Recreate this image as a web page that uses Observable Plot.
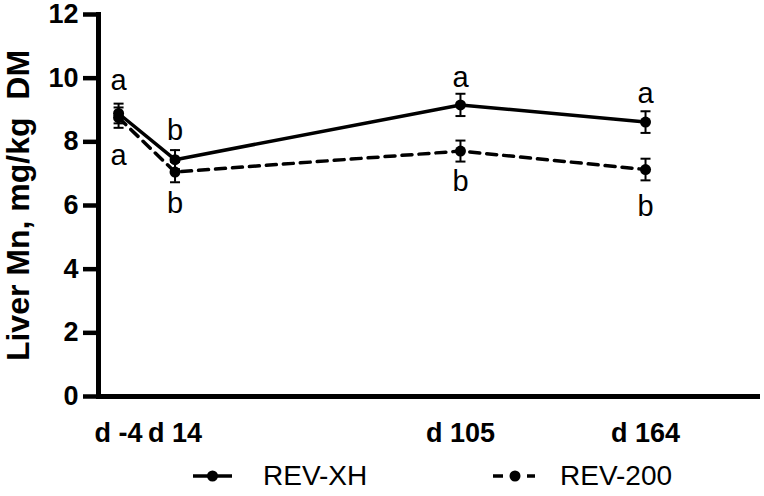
<!DOCTYPE html>
<html>
<head>
<meta charset="utf-8">
<script src="https://cdn.jsdelivr.net/npm/d3@7"></script>
<script src="https://cdn.jsdelivr.net/npm/@observablehq/plot@0.6"></script>
<style>
  body { margin: 0; background: #fff; width: 764px; height: 496px; overflow: hidden; }
  #chart svg text { white-space: pre; }
  #chart g[aria-label="y-axis label"] { font-size: 32px; font-weight: bold; }
  #legend { position: relative; height: 40px; font-family: "Liberation Sans", Arial, sans-serif; font-size: 28px; color: #000; }
  #legend .item { position: absolute; top: 0; height: 40px; display: flex; align-items: center; }
  #legend .lab { position: absolute; top: 0; height: 40px; line-height: 40px; }
</style>
</head>
<body>
<div id="chart"></div>
<div id="legend"></div>
<script>
// ---- data ----
const days = [-4, 14, 105, 164];
const dayLabels = ["d -4", "d 14", "d 105", "d 164"];
const seriesNames = ["REV-XH", "REV-200"];
const xhMean = [8.89, 7.44, 9.16, 8.62];
const xhSE = [0.31, 0.30, 0.35, 0.34];
const r200Mean = [8.76, 7.05, 7.71, 7.13];
const r200SE = [0.32, 0.32, 0.33, 0.34];
// significance letters (day, y in data units, letter)
const letterDay = [-4, -4, 14, 14, 105, 105, 164, 164];
const letterY = [9.93, 7.57, 8.36, 6.06, 10.02, 6.75, 9.50, 5.97];
const letterText = ["a", "a", "b", "b", "a", "b", "a", "b"];
const yTicks = [0, 2, 4, 6, 8, 10, 12];
const xDomain = [-10.4, 199.7];
const yDomain = [0, 12];

// ---- build tables ----
const rows = [];
days.forEach((d, i) => {
  rows.push({series: seriesNames[0], day: d, mean: xhMean[i], lo: xhMean[i] - xhSE[i], hi: xhMean[i] + xhSE[i]});
  rows.push({series: seriesNames[1], day: d, mean: r200Mean[i], lo: r200Mean[i] - r200SE[i], hi: r200Mean[i] + r200SE[i]});
});
const xhRows = rows.filter(r => r.series === seriesNames[0]);
const r200Rows = rows.filter(r => r.series === seriesNames[1]);
const letters = letterDay.map((d, i) => ({day: d, y: letterY[i], t: letterText[i]}));

const capSymbol = {
  draw(context, size) {
    const w = 5;
    context.moveTo(-w, 0);
    context.lineTo(w, 0);
  }
};

const font = "'Liberation Sans', Arial, sans-serif";

const plot = Plot.plot({
  width: 764,
  height: 456,
  marginLeft: 98,
  marginRight: 7,
  marginTop: 14,
  marginBottom: 60,
  style: {fontFamily: font, color: "#000", background: "#fff", overflow: "visible"},
  x: {domain: xDomain},
  y: {domain: yDomain},
  marks: [
    Plot.axisY({
      ticks: yTicks, tickSize: 15, tickPadding: 5, strokeWidth: 4.5,
      fontSize: 27, fontWeight: "bold",
      label: "Liver Mn, mg/kg\u00a0\u00a0DM", labelAnchor: "center", labelArrow: "none", labelOffset: 92
    }),
    Plot.axisX({
      ticks: days, tickFormat: d => dayLabels[days.indexOf(d)],
      tickSize: 0, tickPadding: 26, fontSize: 27, fontWeight: "bold", label: null
    }),
    Plot.frame({anchor: "left", strokeWidth: 5}),
    Plot.frame({anchor: "bottom", strokeWidth: 5}),
    Plot.line(r200Rows, {x: "day", y: "mean", stroke: "#000", strokeWidth: 3.5, strokeDasharray: "10,7"}),
    Plot.line(xhRows, {x: "day", y: "mean", stroke: "#000", strokeWidth: 3.5}),
    Plot.ruleX(rows, {x: "day", y1: "lo", y2: "hi", stroke: "#000", strokeWidth: 2}),
    Plot.dot(rows, {x: "day", y: "lo", symbol: capSymbol, stroke: "#000", strokeWidth: 2, fill: "none"}),
    Plot.dot(rows, {x: "day", y: "hi", symbol: capSymbol, stroke: "#000", strokeWidth: 2, fill: "none"}),
    Plot.dot(rows, {x: "day", y: "mean", r: 5.5, fill: "#000", stroke: "none"}),
    Plot.text(letters, {x: "day", y: "y", text: "t", fontSize: 29, fill: "#000", lineAnchor: "middle"})
  ]
});
document.getElementById("chart").appendChild(plot);

// ---- legend ----
const legend = document.getElementById("legend");
const items = [
  {name: seriesNames[0], dash: null, left: 193, textLeft: 263},
  {name: seriesNames[1], dash: "10,7", left: 493, textLeft: 560}
];
items.forEach(it => {
  const sw = document.createElement("div");
  sw.className = "item";
  sw.style.left = it.left + "px";
  sw.innerHTML = `<svg width="44" height="20" viewBox="0 0 44 20">
    <line x1="0" x2="${it.dash ? 42 : 39}" y1="10" y2="10" stroke="#000" stroke-width="3.5" ${it.dash ? `stroke-dasharray="${it.dash}"` : ""}/>
    <circle cx="${it.dash ? 22 : 19.5}" cy="10" r="5.5" fill="#000"/></svg>`;
  legend.appendChild(sw);
  const lab = document.createElement("div");
  lab.className = "lab";
  lab.style.left = it.textLeft + "px";
  lab.textContent = it.name;
  legend.appendChild(lab);
});
</script>
</body>
</html>
